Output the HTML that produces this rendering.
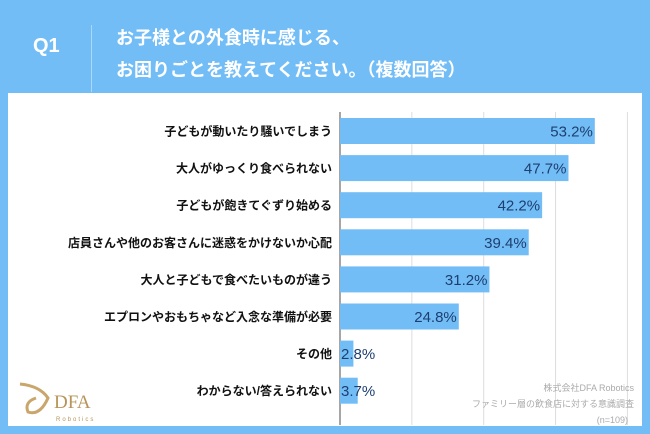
<!DOCTYPE html>
<html><head><meta charset="utf-8">
<style>
body{margin:0;width:650px;height:434px;background:#73bdf7;font-family:"Liberation Sans","Noto Sans CJK JP",sans-serif;overflow:hidden;position:relative}
.abs{position:absolute}
</style></head><body>
<div class="abs" style="left:33px;top:35px;color:#fff;font-size:20px;font-weight:bold">Q1</div>
<div class="abs" style="left:91px;top:25px;width:1px;height:67px;background:#a9d8fb"></div>
<div class="abs" style="left:116px;top:22px;color:#fff;font-size:18px;font-weight:bold;line-height:32px;font-family:'Liberation Sans','Noto Sans CJK JP',sans-serif">お子様との外食時に感じる、<br>お困りごとを教えてください。（複数回答）</div>
<div class="abs" style="left:8px;top:93px;width:634px;height:333px;background:#fff"></div>
<svg class="abs" style="left:0;top:0" width="650" height="434">
<g id="grid"></g><g id="bars"></g>
<text x="634" y="391" text-anchor="end" font-size="9" fill="#aaa">株式会社DFA Robotics</text>
<text x="634" y="407" text-anchor="end" font-size="9" fill="#aaa">ファミリー層の飲食店に対する意識調査</text>
<text x="628" y="423" text-anchor="end" font-size="9" fill="#aaa">(n=109)</text>
<g>
<path d="M20 384 Q40 386 48 398 Q40 416 28 412 Q24 402 36 398" fill="none" stroke="#c9a66b" stroke-width="3"/>
<text x="54" y="408" font-size="19" fill="#b8945a" font-family="Liberation Serif,serif">DFA</text>
<text x="56" y="421" font-size="6" fill="#b8945a" letter-spacing="2">Robotics</text>
</g>
</svg>
<script>
const categories=["子どもが動いたり騒いでしまう","大人がゆっくり食べられない","子どもが飽きてぐずり始める","店員さんや他のお客さんに迷惑をかけないか心配","大人と子どもで食べたいものが違う","エプロンやおもちゃなど入念な準備が必要","その他","わからない/答えられない"];
const values=[53.2,47.7,42.2,39.4,31.2,24.8,2.8,3.7];
const ticks=[0,15,30,45,60];
const NS="http://www.w3.org/2000/svg";
const x0=340,scale=4.79,y0=131,step=37.1,bh=26;
const xs=v=>x0+v*scale, ys=i=>y0+i*step;
const grid=document.getElementById('grid'),bars=document.getElementById('bars');
ticks.forEach(t=>{const l=document.createElementNS(NS,'line');
l.setAttribute('x1',xs(t));l.setAttribute('x2',xs(t));l.setAttribute('y1',112);l.setAttribute('y2',425);
l.setAttribute('stroke',t===0?'#888':'#ddd');l.setAttribute('stroke-width',t===0?1.5:1);


grid.appendChild(l);});
categories.forEach((c,i)=>{
const r=document.createElementNS(NS,'rect');
r.setAttribute('x',x0);r.setAttribute('y',ys(i)-bh/2);r.setAttribute('width',values[i]*scale);r.setAttribute('height',bh);r.setAttribute('fill','#73bdf7');


bars.appendChild(r);
const t=document.createElementNS(NS,'text');
t.setAttribute('x',332);t.setAttribute('y',ys(i)+4.5);t.setAttribute('text-anchor','end');t.setAttribute('font-size','12');t.setAttribute('font-weight','bold');t.setAttribute('fill','#111');
t.textContent=c;


bars.appendChild(t);
const v=document.createElementNS(NS,'text');
const big=values[i]>10;
v.setAttribute('x',big?xs(values[i])-2:x0+1);v.setAttribute('y',ys(i)+5.5);v.setAttribute('text-anchor',big?'end':'start');v.setAttribute('font-size','15');v.setAttribute('fill','#1d3f6e');
v.textContent=values[i].toFixed(1)+'%';


bars.appendChild(v);
});
</script>
</body></html>
